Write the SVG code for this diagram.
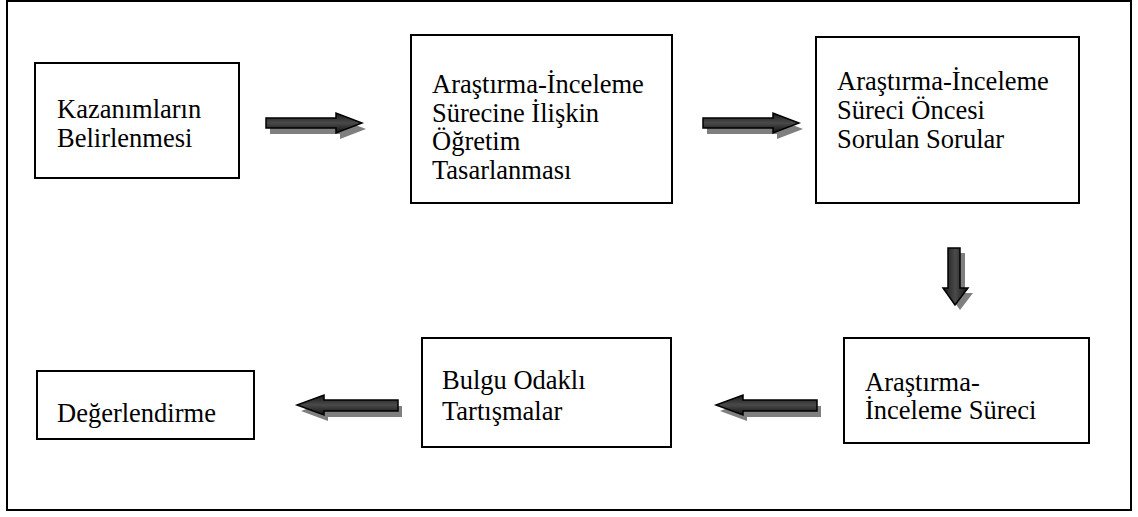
<svg xmlns="http://www.w3.org/2000/svg" width="1138" height="517" viewBox="0 0 1138 517">
<style>
.box{fill:#fff;stroke:#000;stroke-width:2}
.t{font-family:"Liberation Serif","Times New Roman",serif;font-size:26.5px;fill:#000}
.sh{fill:#7f7f7f}
.ah{stroke:#000;stroke-width:1.5;stroke-linejoin:miter}
.h{fill:url(#gh)}
.v{fill:url(#gv)}
</style>
<defs>
<linearGradient id="gh" x1="0" y1="0" x2="0" y2="1">
<stop offset="0" stop-color="#1a1a1a"/>
<stop offset="0.5" stop-color="#4a4a4a"/>
<stop offset="1" stop-color="#111"/>
</linearGradient>
<linearGradient id="gv" x1="0" y1="0" x2="1" y2="0">
<stop offset="0" stop-color="#1a1a1a"/>
<stop offset="0.5" stop-color="#4a4a4a"/>
<stop offset="1" stop-color="#111"/>
</linearGradient>
</defs>
<rect x="0" y="0" width="1138" height="517" fill="#fff"/>
<rect x="7" y="1" width="1124" height="509" fill="none" stroke="#000" stroke-width="2"/>

<g id="connectors">
<g id="a1">
<polygon class="sh" points="270,124 340,124 340,119 366,129 340,139 340,134 270,134"/>
<polygon class="ah h" points="266,118 336,118 336,113 362,123 336,133 336,128 266,128"/>
</g>
<g id="a2">
<polygon class="sh" points="707,124 777,124 777,119 803,129 777,139 777,134 707,134"/>
<polygon class="ah h" points="703,118 773,118 773,113 799,123 773,133 773,128 703,128"/>
</g>
<g id="a3">
<polygon class="sh" points="953,253 965,253 965,293 973,293 960,310 948,293 953,293"/>
<polygon class="ah v" points="948,248 960,248 960,288 968,288 955,305 943,288 948,288"/>
</g>
<g id="a4">
<polygon class="sh" points="402,406 402,417 328,417 328,421 301,411 328,401 328,406"/>
<polygon class="ah h" points="398,400 398,411 324,411 324,415 297,405 324,395 324,400"/>
</g>
<g id="a5">
<polygon class="sh" points="821,406 821,417 747,417 747,421 720,411 747,401 747,406"/>
<polygon class="ah h" points="817,400 817,411 743,411 743,415 716,405 743,395 743,400"/>
</g>
</g>

<g id="n1">
<rect class="box" x="35" y="63" width="204" height="115"/>
<text class="t" x="57" y="118">Kazanımların</text>
<text class="t" x="57" y="147">Belirlenmesi</text>
</g>
<g id="n2">
<rect class="box" x="411" y="35" width="261" height="168"/>
<text class="t" x="432" y="93">Araştırma-İnceleme</text>
<text class="t" x="432" y="121.5">Sürecine İlişkin</text>
<text class="t" x="432" y="150">Öğretim</text>
<text class="t" x="432" y="178.5">Tasarlanması</text>
</g>
<g id="n3">
<rect class="box" x="816" y="37" width="263" height="166"/>
<text class="t" x="837" y="90">Araştırma-İnceleme</text>
<text class="t" x="837" y="119">Süreci Öncesi</text>
<text class="t" x="837" y="148">Sorulan Sorular</text>
</g>
<g id="n4">
<rect class="box" x="844" y="338" width="245" height="105"/>
<text class="t" x="865" y="391">Araştırma-</text>
<text class="t" x="865" y="419">İnceleme Süreci</text>
</g>
<g id="n5">
<rect class="box" x="422" y="338" width="249" height="109"/>
<text class="t" x="442" y="389">Bulgu Odaklı</text>
<text class="t" x="442" y="420">Tartışmalar</text>
</g>
<g id="n6">
<rect class="box" x="37" y="371" width="217" height="68"/>
<text class="t" x="57" y="422">Değerlendirme</text>
</g>
</svg>
